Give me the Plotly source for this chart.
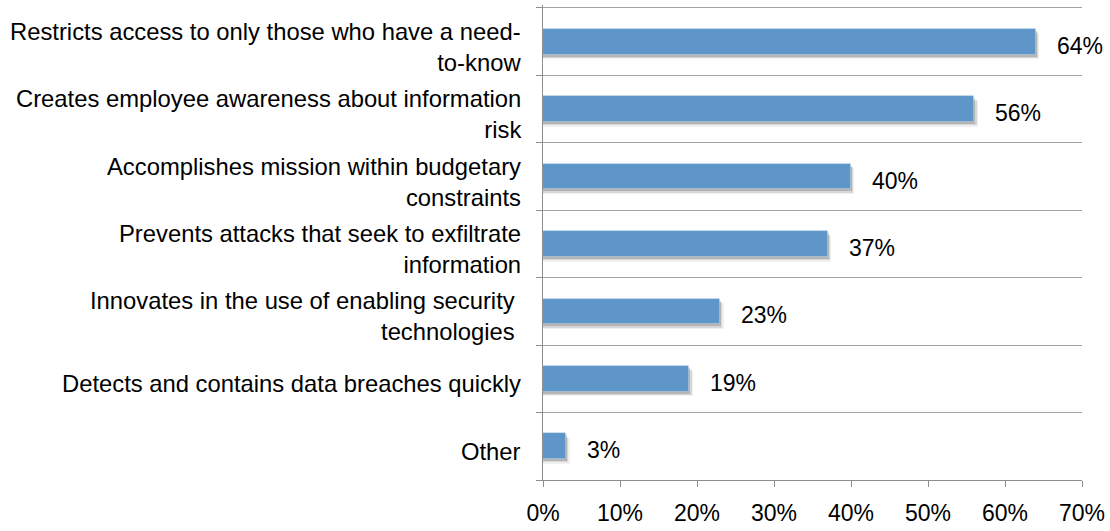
import plotly.graph_objects as go

# Survey responses: share of respondents selecting each attribute
categories = [
    "Restricts access to only those who have a need-<br>to-know",
    "Creates employee awareness about information<br>risk",
    "Accomplishes mission within budgetary<br>constraints",
    "Prevents attacks that seek to exfiltrate<br>information",
    "Innovates in the use of enabling security\u00a0<br>technologies\u00a0",
    "Detects and contains data breaches quickly",
    "Other",
]
values = [64, 56, 40, 37, 23, 19, 3]
x_ticks = [0, 10, 20, 30, 40, 50, 60, 70]
x_tick_labels = [f"{t}%" for t in x_ticks]

positions = list(range(len(categories)))
BAR_W = 0.38
BAR_COLOR = "rgb(94,150,202)"
FONT = "Liberation Sans, Arial, sans-serif"
AXIS_GREY = "#8e8e8e"
GRID_GREY = "#a3a3a3"

fig = go.Figure()

# soft drop shadow under each bar (a few stacked translucent layers)
for dx, dy, alpha in [(0.45, 0.07, 0.06), (0.3, 0.05, 0.10), (0.15, 0.03, 0.16)]:
    fig.add_trace(go.Bar(
        y=positions, x=[v + dx for v in values], orientation="h",
        width=BAR_W, offset=-BAR_W / 2 + dy,
        marker=dict(color=f"rgba(0,0,0,{alpha})", line=dict(width=0)),
        hoverinfo="skip", showlegend=False,
    ))

fig.add_trace(go.Bar(
    y=positions, x=values, orientation="h",
    width=BAR_W, offset=-BAR_W / 2,
    marker=dict(color=BAR_COLOR, line=dict(color="rgba(255,255,255,0.35)", width=0.8)),
    showlegend=False,
))

annotations = []
for p, cat, v in zip(positions, categories, values):
    annotations.append(dict(
        x=0, xref="paper", y=p, yref="y", text=cat, showarrow=False,
        xanchor="right", yanchor="middle", align="right", xshift=-20, yshift=-5,
        font=dict(family=FONT, size=23.8, color="#000000"),
    ))
    annotations.append(dict(
        x=v, xref="x", y=p, yref="y", text=f"{v}%", showarrow=False,
        xanchor="left", yanchor="middle", xshift=19, yshift=-4,
        font=dict(family=FONT, size=23, color="#000000"),
    ))

# the y range is padded slightly at the top so the first category
# separator (and its outside tick) sits inside the plot area
fig.update_layout(
    width=1110, height=531,
    margin=dict(l=543, r=27, t=5, b=44),
    paper_bgcolor="white", plot_bgcolor="white",
    barmode="overlay", bargap=0,
    annotations=annotations,
    xaxis=dict(
        range=[0, 70], tickvals=x_ticks, ticktext=x_tick_labels,
        showgrid=False, zeroline=False, showline=True,
        linecolor=AXIS_GREY, linewidth=1.3,
        ticks="outside", ticklen=6, tickwidth=1.3, tickcolor=AXIS_GREY,
        ticklabelstandoff=6,
        tickfont=dict(family=FONT, size=23, color="#000000"),
        fixedrange=True,
    ),
    yaxis=dict(
        range=[6.5, -0.544], tickvals=[i - 0.5 for i in range(len(categories) + 1)],
        showticklabels=False, showgrid=True, gridcolor=GRID_GREY, gridwidth=1.3,
        zeroline=False, showline=True, linecolor=AXIS_GREY, linewidth=1.3,
        ticks="outside", ticklen=6, tickwidth=1.3, tickcolor=AXIS_GREY,
        fixedrange=True,
    ),
)

fig.write_html("out.html")
